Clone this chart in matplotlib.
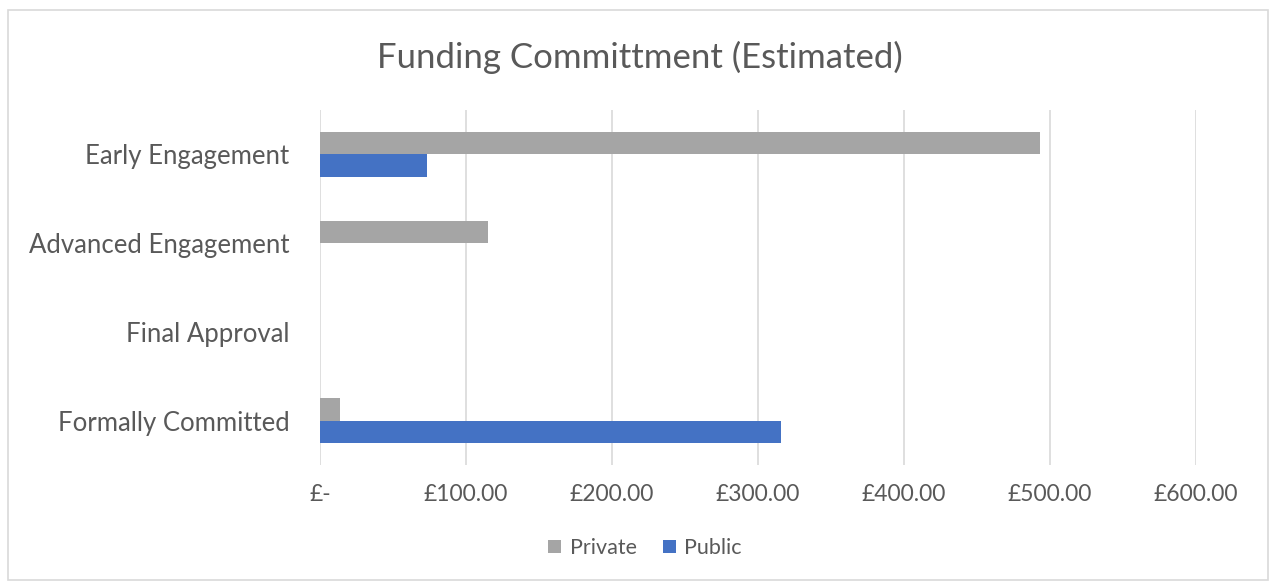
import matplotlib
matplotlib.use("Agg")
import matplotlib.pyplot as plt
from matplotlib.patches import Rectangle
import numpy as np

categories = ["Early Engagement", "Advanced Engagement", "Final Approval", "Formally Committed"]
private = [493, 115, 0, 14]
public = [73, 0, 0, 316]
xticks = [0, 100, 200, 300, 400, 500, 600]
xtick_labels = ["£-", "£100.00", "£200.00", "£300.00", "£400.00", "£500.00", "£600.00"]

plt.rcParams['font.family'] = ['Lato', 'DejaVu Sans']
txt = "#595959"

fig = plt.figure(figsize=(12.69, 5.83), dpi=100)
fig.patches.append(Rectangle((8/1269, 3/583), 1 - 8/1269 - 1/1269, 1 - 13/583,
                             transform=fig.transFigure, fill=False,
                             edgecolor="#D9D9D9", linewidth=1.2))
ax = fig.add_axes([320/1269, 1 - 465/583, 876/1269, 355/583])

y = np.arange(len(categories))
h = 0.25
ax.barh(y - h/2, private, height=h, color="#A5A5A5", label="Private", zorder=3)
ax.barh(y + h/2, public, height=h, color="#4472C4", label="Public", zorder=3)

ax.set_xlim(0, 600)
ax.set_ylim(3.5, -0.5)
ax.set_xticks(xticks)
ax.set_xticklabels(xtick_labels, color=txt, fontsize=16.5)
ax.set_yticks(y)
ax.set_yticklabels(categories, color=txt, fontsize=18.5)
ax.tick_params(axis='x', length=0, pad=14)
ax.tick_params(axis='y', length=0, pad=22)
ax.grid(axis='x', color="#D9D9D9", linewidth=1.2, zorder=0)
for s in ax.spines.values():
    s.set_visible(False)

fig.text(640/1269, 1 - 57/583, "Funding Committment (Estimated)", ha="center", va="center",
         fontsize=25, color=txt)

leg = fig.legend(loc="center", bbox_to_anchor=(645/1269, 1 - 548/583), ncol=2, frameon=False,
                 fontsize=15.5, handlelength=0.6, handleheight=0.6, handletextpad=0.4,
                 columnspacing=1.2)
for t in leg.get_texts():
    t.set_color(txt)

fig.savefig("out.png", dpi=100)
